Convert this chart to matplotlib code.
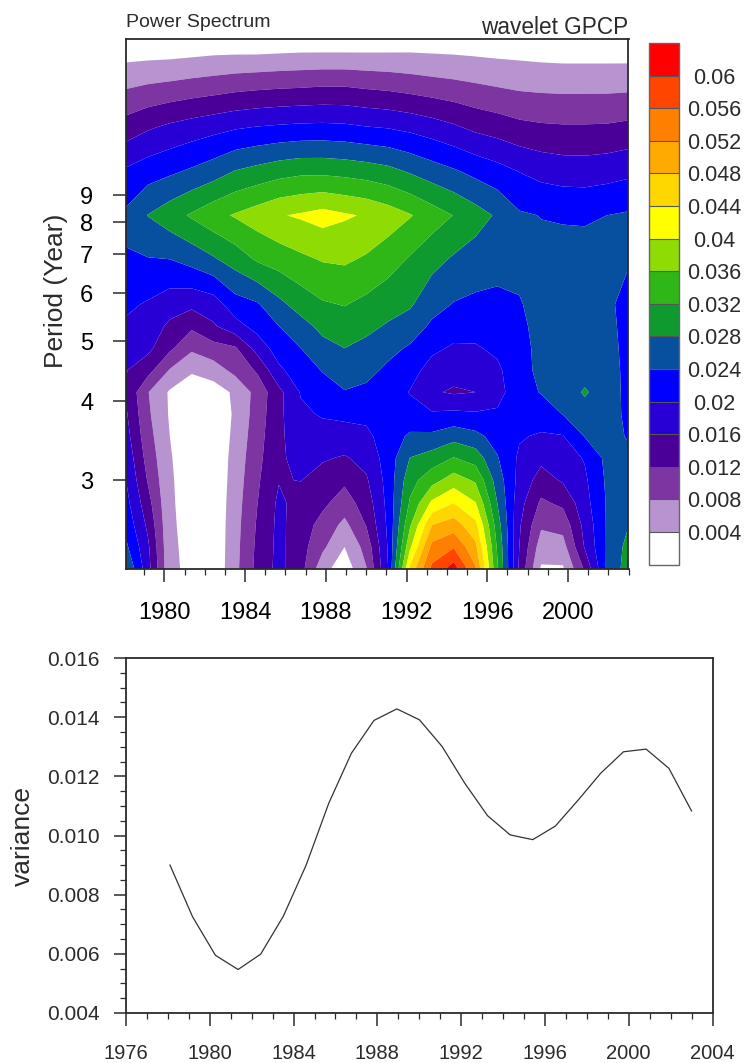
import numpy as np
import matplotlib
matplotlib.use("Agg")
import matplotlib.pyplot as plt
from matplotlib.ticker import FixedLocator

plt.rcParams['font.family'] = ['Liberation Sans', 'DejaVu Sans']

# time samples shared by both panels
years = [1978.1, 1979.18, 1980.27, 1981.35, 1982.43, 1983.51, 1984.6, 1985.68,
         1986.76, 1987.84, 1988.93, 1990.01, 1991.09, 1992.17, 1993.26, 1994.34,
         1995.42, 1996.5, 1997.59, 1998.67, 1999.75, 2000.83, 2001.92, 2003.0]

# variance curve (lower panel)
variance = [0.0090, 0.00725, 0.00595, 0.00547, 0.00599, 0.00727, 0.0090, 0.01109,
            0.01278, 0.01389, 0.01428, 0.01391, 0.01301, 0.01177, 0.01067, 0.01002,
            0.00986, 0.01032, 0.0112, 0.01211, 0.01283, 0.01292, 0.01227, 0.01083]

# height of each scale row above the bottom of the wavelet panel
scale_rows = [0, 22, 44, 66, 89, 111, 133, 155, 177, 199, 221, 243, 265, 310, 354, 398, 442, 487, 531]

# wavelet power, one list per time sample, bottom row first
power_by_year = [
    [.0280, .0248, .0228, .0213, .0200, .0188, .0175, .0165, .0156, .0162, .0177, .0193, .0208, .0237, .0248, .0206, .0138, .0070, .0004],
    [.0176, .0168, .0152, .0135, .0117, .0105, .0095, .0087, .0082, .0135, .0170, .0183, .0196, .0238, .0281, .0222, .0155, .0077, .0003],
    [.0049, .0048, .0047, .0046, .0045, .0043, .0040, .0036, .0035, .0077, .0128, .0152, .0178, .0240, .0303, .0233, .0168, .0082, .0002],
    [.0030, .0028, .0025, .0022, .0020, .0018, .0016, .0015, .0016, .0045, .0087, .0127, .0170, .0255, .0325, .0246, .0178, .0088, .0004],
    [.0008, .0008, .0008, .0008, .0008, .0008, .0008, .0009, .0020, .0060, .0105, .0155, .0180, .0275, .0347, .0261, .0187, .0093, .0007],
    [.0069, .0067, .0065, .0062, .0058, .0055, .0050, .0046, .0047, .0092, .0115, .0185, .0223, .0298, .0364, .0282, .0196, .0099, .0006],
    [.0131, .0128, .0124, .0119, .0114, .0108, .0103, .0098, .0094, .0125, .0175, .0214, .0236, .0325, .0380, .0293, .0202, .0103, .0004],
    [.0172, .0171, .0170, .0168, .0158, .0155, .0153, .0151, .0149, .0192, .0220, .0240, .0270, .0338, .0397, .0304, .0206, .0106, .0006],
    [.0134, .0136, .0139, .0145, .0161, .0170, .0180, .0192, .0203, .0222, .0240, .0265, .0297, .0352, .0405, .0311, .0209, .0108, .0008],
    [.0055, .0088, .0107, .0128, .0145, .0164, .0183, .0204, .0222, .0242, .0267, .0291, .0316, .0363, .0415, .0311, .0210, .0111, .0007],
    [.0015, .0040, .0069, .0102, .0127, .0156, .0185, .0208, .0238, .0259, .0280, .0300, .0322, .0366, .0405, .0307, .0208, .0111, .0007],
    [.0078, .0095, .0122, .0138, .0155, .0173, .0191, .0210, .0231, .0252, .0270, .0289, .0310, .0355, .0396, .0301, .0202, .0106, .0009],
    [.0200, .0204, .0208, .0212, .0215, .0218, .0220, .0222, .0222, .0232, .0252, .0276, .0295, .0338, .0381, .0292, .0198, .0102, .0011],
    [.0450, .0392, .0355, .0325, .0305, .0281, .0246, .0215, .0198, .0215, .0235, .0262, .0285, .0316, .0363, .0276, .0190, .0096, .0014],
    [.0570, .0532, .0480, .0408, .0345, .0298, .0248, .0205, .0165, .0185, .0208, .0233, .0255, .0293, .0340, .0259, .0179, .0090, .0014],
    [.0620, .0557, .0500, .0440, .0379, .0322, .0265, .0209, .0155, .0175, .0195, .0216, .0238, .0275, .0319, .0245, .0166, .0085, .0014],
    [.0525, .0490, .0451, .0402, .0354, .0303, .0251, .0205, .0160, .0178, .0196, .0215, .0232, .0262, .0297, .0229, .0151, .0079, .0013],
    [.0325, .0315, .0300, .0280, .0262, .0243, .0225, .0206, .0185, .0192, .0208, .0222, .0232, .0252, .0275, .0215, .0142, .0073, .0012],
    [.0152, .0160, .0165, .0175, .0187, .0193, .0204, .0215, .0226, .0228, .0228, .0232, .0238, .0248, .0245, .0199, .0131, .0068, .0012],
    [.0035, .0059, .0086, .0113, .0143, .0170, .0195, .0222, .0242, .0248, .0250, .0252, .0250, .0250, .0239, .0187, .0126, .0066, .0009],
    [.0035, .0064, .0094, .0128, .0165, .0181, .0198, .0241, .0255, .0258, .0258, .0258, .0255, .0255, .0236, .0181, .0124, .0065, .0007],
    [.0125, .0163, .0172, .0185, .0193, .0203, .0242, .0262, .0285, .0262, .0260, .0258, .0257, .0255, .0235, .0180, .0124, .0065, .0007],
    [.0245, .0243, .0243, .0243, .0246, .0250, .0253, .0256, .0258, .0256, .0252, .0248, .0245, .0250, .0240, .0184, .0125, .0065, .0007],
    [.0300, .0294, .0279, .0268, .0258, .0248, .0237, .0232, .0230, .0230, .0230, .0231, .0232, .0242, .0245, .0191, .0130, .0066, .0006],
]

# contour levels and fill colours
levels = [0.0, .004, .008, .012, .016, .020, .024, .028, .032, .036, .040, .044, .048, .052, .056, .060, .070]
level_labels = ["0.004", "0.008", "0.012", "0.016", "0.02", "0.024", "0.028", "0.032",
                "0.036", "0.04", "0.044", "0.048", "0.052", "0.056", "0.06"]
fill_colors = ["#ffffff", "#b793d0", "#7d35a2", "#4a0098", "#2800d6", "#0000ff", "#07509f", "#0f9a30",
               "#2fb617", "#8fdc05", "#ffff00", "#ffd700", "#ffaa00", "#ff7f00", "#ff4500", "#ff0000"]

period_ticks = [3, 4, 5, 6, 7, 8, 9]
period_tick_rows = [89, 168, 228, 276, 315, 347, 374]

W, H = 751, 1063
DARK = "#2b2b2b"


def px_box(left, top, right, bottom):
    # axes rectangle from picture pixels
    return [left / W, 1 - bottom / H, (right - left) / W, (bottom - top) / H]


fig = plt.figure(figsize=(W / 100, H / 100), dpi=100)

# wavelet panel
ax1 = fig.add_axes(px_box(126, 38.5, 628.5, 569))
power = np.array(power_by_year).T
cf = ax1.contourf(years, scale_rows, power, levels=levels, colors=fill_colors, antialiased=True)
ax1.set_xlim(1978.1, 2003.0)
ax1.set_ylim(0, 531)
ax1.set_xticks([1980, 1984, 1988, 1992, 1996, 2000])
ax1.xaxis.set_minor_locator(FixedLocator(list(range(1979, 2004))))
ax1.set_yticks(period_tick_rows)
ax1.set_yticklabels([str(p) for p in period_ticks])
ax1.tick_params(axis='x', which='major', length=9.5, width=1.1, labelsize=17, pad=14, color=DARK)
ax1.tick_params(axis='x', which='minor', length=4.5, width=0.9, color=DARK)
ax1.tick_params(axis='y', which='major', length=9.5, width=1.1, labelsize=17, pad=14, color=DARK)
ax1.set_ylabel("Period (Year)", fontsize=19, color=DARK)
ax1.yaxis.set_label_coords(-0.115, 0.525)
ax1.text(0.0, 1.015, "Power Spectrum", transform=ax1.transAxes, fontsize=14, ha='left', va='bottom', color=DARK)
ax1.text(1.0, 0.999, "wavelet GPCP", transform=ax1.transAxes, fontsize=16.3, ha='right', va='bottom', color=DARK)
for s in ax1.spines.values():
    s.set_linewidth(1.3)
    s.set_color(DARK)

# colour bar
cax = fig.add_axes(px_box(649, 43, 679, 564.5))
cb = fig.colorbar(cf, cax=cax, ticks=levels[1:-1], spacing='uniform', drawedges=True)
cb.ax.set_yticklabels(level_labels)
cb.ax.tick_params(length=0, labelsize=15.5, pad=25.5, labelcolor=DARK)
for lab in cb.ax.get_yticklabels():
    lab.set_ha('center')
cb.dividers.set_color("#555555")
cb.dividers.set_linewidth(0.8)
cb.outline.set_edgecolor("#666666")
cb.outline.set_linewidth(1.0)

# variance panel
ax2 = fig.add_axes(px_box(126, 658, 712.5, 1013))
ax2.plot(years, variance, color="#333333", linewidth=0.9)
ax2.set_xlim(1976, 2004)
ax2.set_ylim(0.004, 0.016)
ax2.set_xticks(list(range(1976, 2005, 4)))
ax2.xaxis.set_minor_locator(FixedLocator(list(range(1976, 2005))))
ax2.set_yticks([0.004, 0.006, 0.008, 0.010, 0.012, 0.014, 0.016])
ax2.set_yticklabels(["0.004", "0.006", "0.008", "0.010", "0.012", "0.014", "0.016"])
ax2.yaxis.set_minor_locator(FixedLocator(list(np.arange(0.004, 0.0161, 0.0005))))
ax2.tick_params(axis='both', which='major', length=9, width=1.1, labelsize=15, color=DARK, labelcolor=DARK)
ax2.tick_params(axis='x', which='major', labelsize=14.5, pad=13)
ax2.tick_params(axis='y', which='major', pad=10)
ax2.tick_params(axis='both', which='minor', length=4.5, width=0.9, color=DARK)
ax2.set_ylabel("variance", fontsize=19, color=DARK)
ax2.yaxis.set_label_coords(-0.156, 0.5)
for s in ax2.spines.values():
    s.set_linewidth(1.3)
    s.set_color(DARK)

plt.savefig('out.png', dpi=100)
